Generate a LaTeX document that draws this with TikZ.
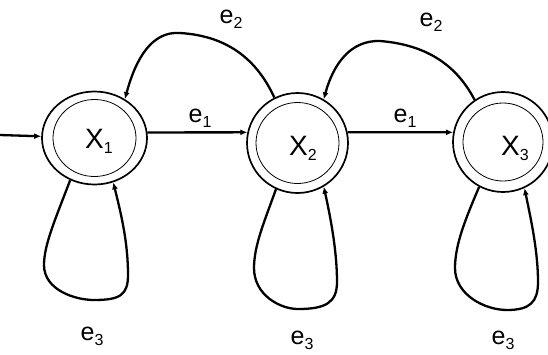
\documentclass[tikz,border=0pt]{standalone}
\usepackage{fontspec}
\setmainfont{Liberation Sans}
\usetikzlibrary{arrows.meta,shapes.geometric}
% lowered small index after a letter
\newcommand{\idx}[1]{\raisebox{-5pt}{\fontsize{16}{16}\selectfont #1}}
\begin{document}
\begin{tikzpicture}[x=1pt,y=-1pt,
  state/.style={ellipse,draw,line width=1.7pt,inner sep=0pt},
  ring/.style={ellipse,draw,line width=0.8pt,inner sep=0pt},
  edge/.style={line width=2.3pt,-{Latex[length=7pt,width=6pt]}},
  lbl/.style={font=\fontsize{25}{25}\selectfont,inner sep=0pt},
  sname/.style={font=\fontsize{28}{28}\selectfont,inner sep=0pt}]
\useasboundingbox (0,0) rectangle (548,354);

% states: outer ellipse, inner ring, name
\node[state,minimum width=105pt,minimum height=93pt] (X1) at (94.5,138) {};
\node[ring,minimum width=83pt,minimum height=77pt] (X1r) at (X1) {};
\node[sname] (t1) at (99,141) {X\idx{1}};

\node[state,minimum width=101pt,minimum height=100pt] (X2) at (297.5,143) {};
\node[ring,minimum width=83pt,minimum height=81pt] (X2r) at (X2) {};
\node[sname] (t2) at (303,148) {X\idx{2}};

\node[state,minimum width=100pt,minimum height=100pt] (X3) at (503,142) {};
\node[ring,minimum width=80pt,minimum height=78pt] (X3r) at (X3) {};
\node[sname] (t3) at (515,148) {X\idx{3}};

% initial arrow
\coordinate (init) at (0,135);
\draw[edge] (init) -- (X1);

% forward transitions e1
\draw[edge] (X1.6) -- (X2.168);
\draw[edge] (X2.12) -- (X3.169);
\node[lbl] (l1) at (200,118) {e\idx{1}};
\node[lbl] (l2) at (405,118) {e\idx{1}};

% backward transitions e2
\draw[edge] (X2.117) .. controls (258,62) and (230,36) .. (180,33)
  .. controls (152,31) and (136,58) .. (X1.52);
\draw[edge] (X3.124) .. controls (458,68) and (430,45) .. (380,41)
  .. controls (350,40) and (333,65) .. (X2.59);
\node[lbl] (l3) at (231,19) {e\idx{2}};
\node[lbl] (l4) at (431,22) {e\idx{2}};

% self loops e3
\draw[edge] (X1.240) .. controls (55,220) and (44,245) .. (44,265)
  .. controls (44,290) and (75,300) .. (94,300)
  .. controls (120,300) and (128,295) .. (128,275)
  .. controls (128,240) and (120,210) .. (X1.293);
\draw[edge] (X2.245) .. controls (265,220) and (254,245) .. (254,268)
  .. controls (254,295) and (280,309) .. (298,309)
  .. controls (325,309) and (337,303) .. (337,282)
  .. controls (337,250) and (330,215) .. (X2.301);
\draw[edge] (X3.242) .. controls (465,220) and (455,245) .. (455,268)
  .. controls (455,295) and (485,310) .. (507,310)
  .. controls (530,310) and (538,302) .. (538,282)
  .. controls (538,250) and (530,215) .. (X3.295);
\node[lbl] (l5) at (92,336) {e\idx{3}};
\node[lbl] (l6) at (302,340) {e\idx{3}};
\node[lbl] (l7) at (503,340) {e\idx{3}};
\end{tikzpicture}
\end{document}
